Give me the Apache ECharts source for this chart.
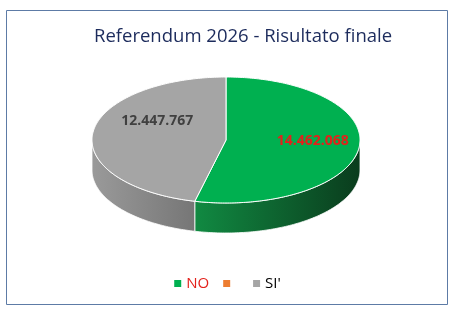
<!DOCTYPE html>
<html>
<head>
<meta charset="utf-8">
<script src="https://cdn.jsdelivr.net/npm/echarts@6/dist/echarts.min.js"></script>
<style>html,body{margin:0;padding:0;background:#fff;}#c{width:455px;height:312px;}</style>
</head>
<body>
<div id="c"></div>
<script>
// ---- data ----
const titleText = 'Referendum 2026 - Risultato finale';
const categories = ['NO', ' ', "SI'"];
const votes = [14462068, 0, 12447767];

// ---- styles ----
const topColors = ['#00b050', '#ed7d31', '#a5a5a5'];
const sideColors = [['#118a42', '#0a3c1d'], ['#c45f1c', '#8a3f10'], ['#9a9a9a', '#767676']];
const labelColors = ['#e3211b', '#404040', '#404040'];
const legendTextColors = ['#e3211b', '#000000', '#000000'];
const labelShift = [[7, -3], [0, 0], [11, -15]];

const CX = 226, CY = 140, RX = 134, RY = 63, DEPTH = 30;

function fmt(v) {
  return String(v).replace(/\B(?=(\d{3})+(?!\d))/g, '.');
}
const total = votes.reduce((a, b) => a + b, 0);
const startAngles = [];
(function () { let acc = 0; votes.forEach(v => { startAngles.push(acc); acc += v / total * 360; }); })();

function pt(deg, dy) {
  const r = deg * Math.PI / 180;
  return [CX + RX * Math.sin(r), CY - RY * Math.cos(r) + (dy || 0)];
}
function arcPts(a, b, dy) {
  const pts = [];
  const n = Math.max(2, Math.ceil(Math.abs(b - a)));
  for (let i = 0; i <= n; i++) pts.push(pt(a + (b - a) * i / n, dy));
  return pts;
}

function makeRender(idx) {
  return function (params, api) {
    const v = api.value(0);
    if (!v) return { type: 'group', children: [] };
    const a = startAngles[idx];
    const b = a + v / total * 360;
    const children = [];
    // side face (front visible part: 90..270)
    const sa = Math.max(a, 90), sb = Math.min(b, 270);
    if (sb > sa) {
      const top = arcPts(sa, sb, 0);
      const bot = arcPts(sa, sb, DEPTH).reverse();
      const leftToRight = top[0][0] > top[top.length - 1][0];
      children.push({
        type: 'polygon',
        z2: 1,
        shape: { points: top.concat(bot) },
        style: {
          fill: {
            type: 'linear', x: 0, y: 0, x2: 1, y2: 0,
            colorStops: [
              { offset: 0, color: sideColors[idx][leftToRight ? 0 : 1] },
              { offset: 1, color: sideColors[idx][leftToRight ? 1 : 0] }
            ]
          },
          stroke: '#ffffff', lineWidth: 0.8
        }
      });
    }
    // top face
    children.push({
      type: 'polygon',
      z2: 5,
      shape: { points: [[CX, CY]].concat(arcPts(a, b, 0)) },
      style: { fill: topColors[idx], stroke: '#ffffff', lineWidth: 1 }
    });
    // label
    const mid = (a + b) / 2;
    const lp = [CX + RX * 0.6 * Math.sin(mid * Math.PI / 180), CY - RY * 0.6 * Math.cos(mid * Math.PI / 180)];
    children.push({
      type: 'text',
      z2: 10,
      style: {
        text: fmt(v),
        x: lp[0] + labelShift[idx][0],
        y: lp[1] + labelShift[idx][1],
        fill: labelColors[idx],
        font: 'bold 14px "Open Sans"',
        align: 'center',
        verticalAlign: 'middle'
      }
    });
    return { type: 'group', children: children };
  };
}

const chart = echarts.init(document.getElementById('c'), null, { renderer: 'canvas' });
chart.setOption({
  animation: false,
  backgroundColor: '#ffffff',
  title: {
    text: titleText,
    left: 89, top: 22,
    textStyle: { fontFamily: 'Open Sans', fontWeight: 'normal', fontSize: 18.5, color: '#1c2b5c' }
  },
  graphic: [{
    type: 'rect',
    shape: { x: 6.5, y: 10.5, width: 441, height: 294 },
    style: { fill: null, stroke: '#5d7ba6', lineWidth: 1 },
    silent: true
  }],
  legend: {
    bottom: 16,
    left: 'center',
    icon: 'rect',
    itemWidth: 7, itemHeight: 7,
    itemGap: 14,
    selectedMode: false,
    textStyle: { fontFamily: 'Open Sans', fontSize: 15 },
    data: categories.map((c, i) => ({ name: c, textStyle: { color: legendTextColors[i] } }))
  },
  series: categories.map((c, i) => ({
    type: 'custom',
    name: c,
    coordinateSystem: 'none',
    itemStyle: { color: topColors[i] },
    renderItem: makeRender(i),
    data: [[votes[i]]]
  }))
});
</script>
</body>
</html>
